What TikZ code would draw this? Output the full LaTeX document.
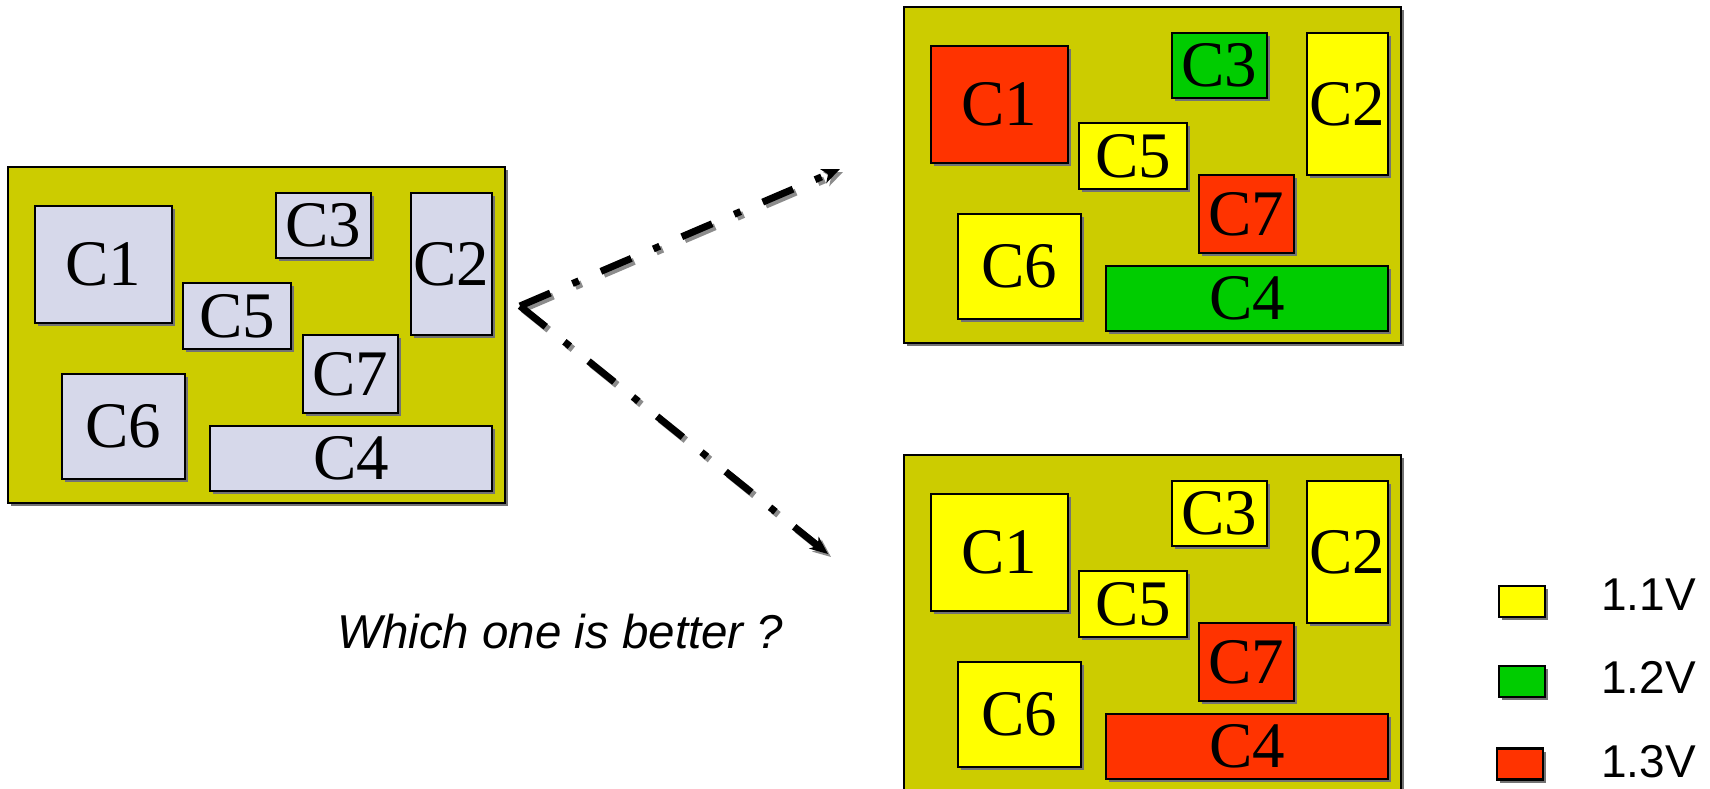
\documentclass[tikz,border=0pt]{standalone}
\usepackage{fontspec}
\setmainfont{Liberation Serif}
\setsansfont{Liberation Sans}
\usetikzlibrary{arrows.meta,shadows}

\definecolor{board}{RGB}{204,204,0}
\definecolor{blank}{RGB}{214,216,234}
\definecolor{lowv}{RGB}{255,255,0}
\definecolor{midv}{RGB}{0,204,0}
\definecolor{highv}{RGB}{255,51,0}

\tikzset{
  shade box/.style={drop shadow={shadow xshift=3pt,shadow yshift=-3pt,fill=black!55,opacity=1}},
  chip/.style={draw,line width=2.5pt,fill=board,minimum width=497pt,minimum height=336pt,inner sep=0pt,shade box},
  core/.style={draw,line width=2.5pt,inner sep=0pt,font=\fontsize{65}{65}\selectfont,shade box},
  key/.style={draw,line width=2.5pt,inner sep=0pt,minimum width=46pt,minimum height=31pt,shade box},
  flow/.style={line width=7pt,dash pattern=on 33pt off 24pt on 7pt off 24pt,
    -{Stealth[length=18pt,width=15pt,inset=5pt]}},
  flow shadow/.style={flow,color=black!45,transform canvas={shift={(3pt,-3pt)}}},
  legend/.style={font=\sffamily\fontsize{46}{46}\selectfont,anchor=base west,inner sep=0pt}
}

% one floor plan: name, origin (top left), colours of C1 ... C7
\newcommand{\floorplan}[9]{%
  \begin{scope}[shift={#2}]
    \node[chip] (#1) at (248.5,168) {};
    \foreach \n/\x/\y/\w/\h/\col in {1/95.5/97.5/137/117/#3, 2/443.5/97/81/142/#4,
        3/315.5/58.5/95/65/#5, 4/343/291.5/282/65/#6, 5/229/149/108/66/#7,
        6/115.5/259.5/123/105/#8, 7/342.5/207/95/78/#9}
      \node[core,fill=\col,minimum width=\w pt,minimum height=\h pt] (#1-c\n) at (\x,\y) {C\n};
  \end{scope}}

\begin{document}
\begin{tikzpicture}[x=1pt,y=-1pt]
  \useasboundingbox (0,0) rectangle (1710,788);
  \clip (0,0) rectangle (1710,788);

  % original placement and the two voltage assignments
  \floorplan{orig}{(8,167)}{blank}{blank}{blank}{blank}{blank}{blank}{blank}
  \floorplan{optA}{(904,7)}{highv}{lowv}{midv}{midv}{lowv}{lowv}{highv}
  \floorplan{optB}{(904,455)}{lowv}{lowv}{lowv}{highv}{lowv}{lowv}{highv}

  % branching arrows
  \coordinate (fork) at (520,306);
  \coordinate (upend) at (840,169);
  \coordinate (downend) at (828,554);
  \draw[flow shadow] (fork) -- (upend);
  \draw[flow shadow] (fork) -- (downend);
  \draw[flow] (fork) -- (upend);
  \draw[flow] (fork) -- (downend);

  \node[legend,font=\sffamily\itshape\fontsize{47.5}{47.5}\selectfont] (question) at (337,648) {Which one is better ?};

  % legend
  \node[key,fill=lowv] (key1) at (1522,601.5) {};
  \node[key,fill=midv] (key2) at (1522,681.5) {};
  \node[key,fill=highv] (key3) at (1520,764) {};
  \node[legend] (lab1) at (1601,610) {1.1V};
  \node[legend] (lab2) at (1601,693) {1.2V};
  \node[legend] (lab3) at (1601,777) {1.3V};
\end{tikzpicture}
\end{document}
